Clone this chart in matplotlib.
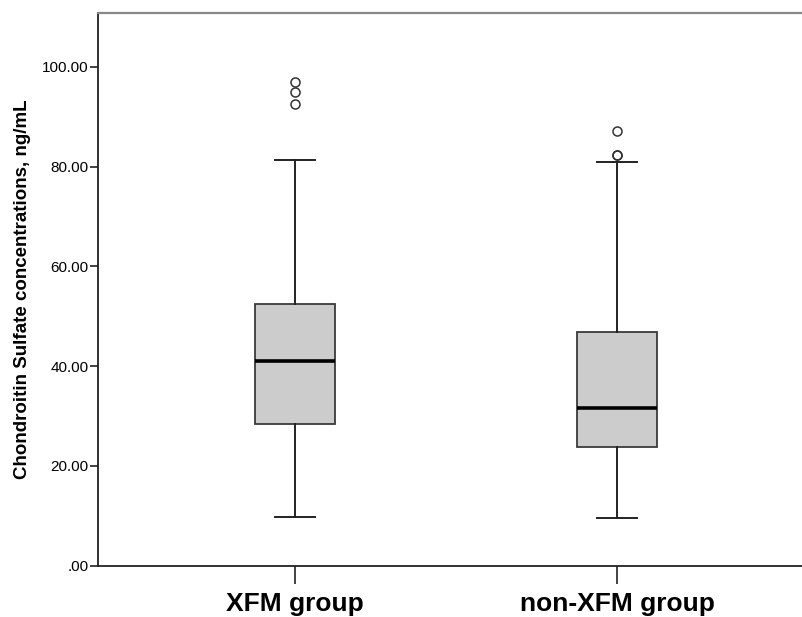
import matplotlib.pyplot as plt

plt.rcParams['font.family'] = ['Liberation Sans', 'DejaVu Sans']

groups = ["XFM group", "non-XFM group"]
q1 = [28.5, 23.7]
medians = [41.1, 31.7]
q3 = [52.4, 46.8]
whisker_low = [9.7, 9.5]
whisker_high = [81.4, 81.0]
outliers = [[96.9, 94.9, 92.6], [87.2, 82.4, 82.4]]

stats = []
for i, g in enumerate(groups):
    stats.append({
        "label": g,
        "q1": q1[i],
        "med": medians[i],
        "q3": q3[i],
        "whislo": whisker_low[i],
        "whishi": whisker_high[i],
        "fliers": outliers[i],
    })

fig = plt.figure(figsize=(8.03, 6.17), dpi=100)
# right edge runs past the figure, like the cropped original
ax = fig.add_axes([98 / 803, 51.3 / 617, 716 / 803, 552.7 / 617])

ax.bxp(
    stats,
    positions=[1, 2],
    widths=0.25,
    patch_artist=True,
    boxprops=dict(facecolor="#cccccc", edgecolor="#3a3a3a", linewidth=1.3),
    medianprops=dict(color="black", linewidth=2.6),
    whiskerprops=dict(color="#222222", linewidth=1.4),
    capprops=dict(color="#222222", linewidth=1.4),
    capwidths=0.125,
    flierprops=dict(marker="o", markerfacecolor="none", markeredgecolor="#333333",
                    markersize=6.5, markeredgewidth=1.1),
)

ax.set_xlim(0.388, 2.612)
ax.set_ylim(0, 110.8)
ax.set_yticks([0, 20, 40, 60, 80, 100])
ax.set_yticklabels([".00", "20.00", "40.00", "60.00", "80.00", "100.00"], fontsize=11)
ax.set_xticks([1, 2])
ax.set_xticklabels(groups, fontsize=19, fontweight="bold")
ax.tick_params(axis="y", length=6, width=1.2, pad=1, color="#222222")
ax.tick_params(axis="x", length=13, width=1.2, pad=6, color="#222222")

ax.set_ylabel("Chondroitin Sulfate concentrations, ng/mL", fontsize=13.5,
              fontweight="bold", labelpad=8)

for side in ["left", "bottom"]:
    ax.spines[side].set_linewidth(1.3)
    ax.spines[side].set_color("#222222")
ax.spines["top"].set_linewidth(1.6)
ax.spines["top"].set_color("#888888")
ax.spines["right"].set_visible(False)

fig.savefig("out.png", dpi=100)
